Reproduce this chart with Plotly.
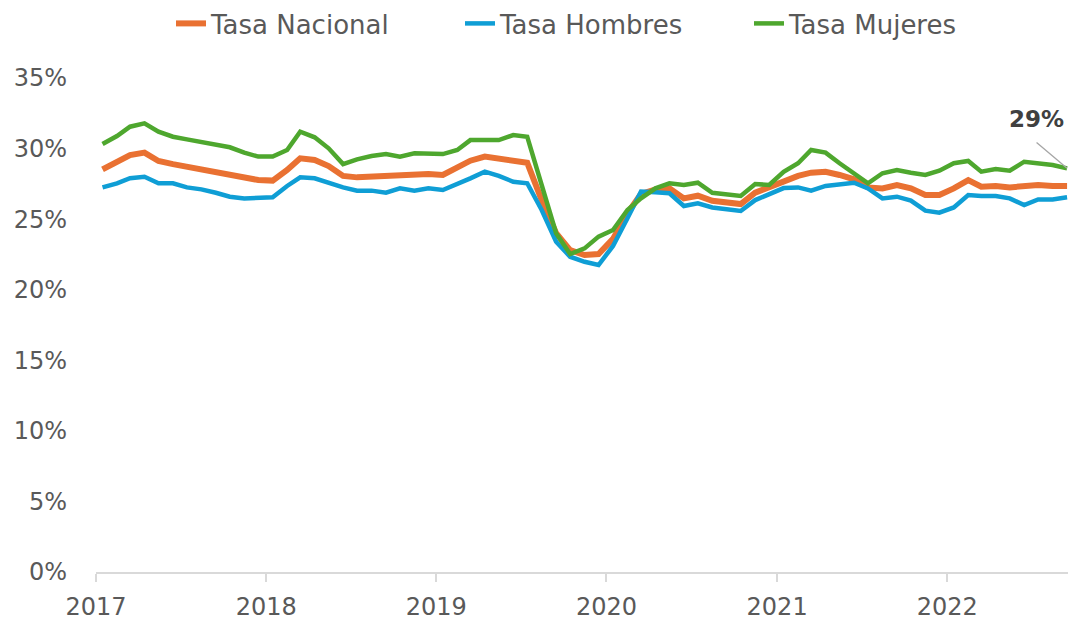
import pandas as pd
import plotly.graph_objects as go

# Monthly data, Jan 2017 - Sep 2022 (plotted mid-month)
months = [d + pd.Timedelta(days=14) for d in pd.date_range("2017-01-01", "2022-09-01", freq="MS")]

tasa_nacional = [
    28.53, 29.00, 29.54, 29.71, 29.12, 28.90, 28.72, 28.55, 28.36, 28.20, 27.96, 27.77,
    27.73, 28.48, 29.31, 29.19, 28.76, 28.06, 27.96, 28.00, 28.06, 28.06, 28.20, 28.20,
    28.13, 28.60, 29.14, 29.43, 29.30, 29.19, 29.00, 26.35, 24.00, 22.81, 22.46, 22.53,
    23.60, 25.41, 26.78, 27.11, 27.18, 26.47, 26.66, 26.30, 26.19, 26.07, 26.87, 27.25,
    27.65, 28.06, 28.29, 28.36, 28.13, 27.82, 27.25, 27.18, 27.42, 27.18, 26.71, 26.71,
    27.18, 27.77, 27.30, 27.35, 27.25, 27.30, 27.42, 27.35, 27.35,
]
tasa_hombres = [
    27.25, 27.54, 27.90, 28.00, 27.54, 27.54, 27.25, 27.11, 26.87, 26.59, 26.47, 26.47,
    26.55, 27.35, 27.96, 27.89, 27.54, 27.25, 27.02, 27.02, 26.87, 27.18, 27.02, 27.18,
    27.06, 27.54, 27.89, 28.36, 28.06, 27.65, 27.54, 25.65, 23.40, 22.34, 21.98, 21.75,
    23.10, 25.06, 26.95, 26.90, 26.83, 25.93, 26.12, 25.83, 25.69, 25.58, 26.35, 26.78,
    27.20, 27.25, 27.02, 27.35, 27.49, 27.58, 27.18, 26.47, 26.59, 26.31, 25.60, 25.46,
    25.83, 26.71, 26.64, 26.64, 26.47, 26.00, 26.40, 26.40, 26.55,
]
tasa_mujeres = [
    30.32, 30.89, 31.55, 31.79, 31.20, 30.84, 30.65, 30.44, 30.25, 30.09, 29.71, 29.43,
    29.43, 29.90, 31.20, 30.80, 30.02, 28.90, 29.24, 29.47, 29.61, 29.43, 29.66, 29.66,
    29.61, 29.90, 30.60, 30.60, 30.60, 30.96, 30.84, 27.42, 24.00, 22.53, 22.93, 23.76,
    24.23, 25.65, 26.47, 27.18, 27.54, 27.42, 27.58, 26.87, 26.78, 26.64, 27.49, 27.42,
    28.36, 28.96, 29.90, 29.71, 28.96, 28.25, 27.54, 28.25, 28.48, 28.29, 28.13, 28.43,
    28.96, 29.12, 28.36, 28.55, 28.43, 29.07, 28.96, 28.84, 28.60,
]

series_names = ["Tasa Nacional", "Tasa Hombres", "Tasa Mujeres"]
series_values = [tasa_nacional, tasa_hombres, tasa_mujeres]
colors = ["#E97132", "#0F9ED5", "#4EA72E"]
widths = [6, 4.5, 4.5]

fig = go.Figure()
for name, vals, c, w in zip(series_names, series_values, colors, widths):
    fig.add_trace(go.Scatter(
        x=months, y=vals, name=name, mode="lines",
        line=dict(color=c, width=w, shape="linear"),
    ))

# End-of-series label with a leader line
end_label = f"{round(tasa_mujeres[-1]):.0f}%"
fig.add_annotation(
    x=months[-1], y=tasa_mujeres[-1], xref="x", yref="y",
    text="", showarrow=True, arrowhead=0, arrowwidth=1.3, arrowcolor="#A6A6A6",
    ax=-32, ay=-27, standoff=0,
)
fig.add_annotation(
    x=months[-1], y=tasa_mujeres[-1], xref="x", yref="y",
    text=f"<b>{end_label}</b>", showarrow=False,
    font=dict(family="DejaVu Sans", size=23, color="#404040"),
    xshift=-31, yshift=49,
)

fig.update_layout(
    width=1068, height=620,
    margin=dict(l=96, r=0, t=78, b=48),
    paper_bgcolor="white", plot_bgcolor="white",
    font=dict(family="DejaVu Sans", size=24, color="#595959"),
    showlegend=True,
    legend=dict(
        orientation="h", x=0.566, xanchor="center", xref="container",
        y=1.0, yanchor="top", yref="container",
        font=dict(size=26, color="#595959"),
        itemwidth=30, entrywidth=244, entrywidthmode="pixels",
    ),
    xaxis=dict(
        type="date", range=["2017-01-01", "2022-09-17"],
        dtick="M12", tick0="2017-01-01", tickformat="%Y",
        showgrid=False, zeroline=False,
        showline=True, linecolor="#D9D9D9", linewidth=1.5,
        ticks="outside", ticklen=8, tickwidth=1.5, tickcolor="#D9D9D9",
        tickfont=dict(size=24, color="#595959"),
        ticklabelstandoff=4,
        automargin=False,
    ),
    yaxis=dict(
        range=[0, 35], dtick=5, tick0=0, ticksuffix="%",
        showgrid=False, zeroline=False, showline=False, ticks="",
        tickfont=dict(size=24, color="#595959"),
        ticklabelstandoff=28, automargin=False,
    ),
)

fig.write_html(
    "out.html",
    config={"displayModeBar": False},
    post_script="document.body.style.margin='0';",
)
